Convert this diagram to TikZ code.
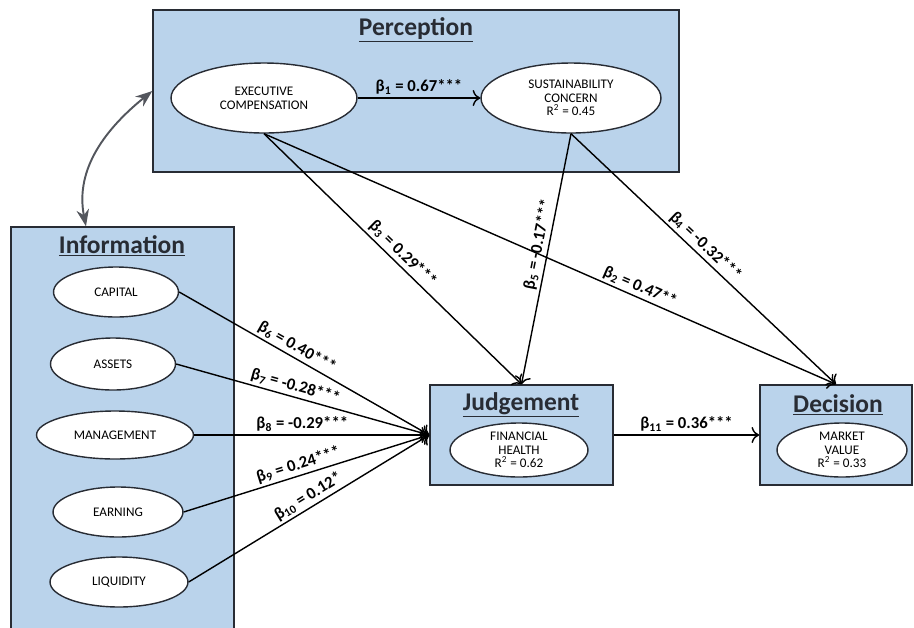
\documentclass[tikz,border=0pt]{standalone}
\usepackage{fontspec}
\setmainfont{Carlito}
\usetikzlibrary{shapes.geometric,arrows.meta}

\definecolor{boxblue}{RGB}{186,211,235}
\definecolor{edge}{RGB}{40,44,52}

\begin{document}
\begin{tikzpicture}[x=0.02cm, y=-0.02cm,
    every node/.style={font=\fontsize{7}{8}\selectfont},
    block/.style={draw=edge, line width=0.9pt, fill=boxblue, rectangle, inner sep=0pt},
    latent/.style={draw=edge, line width=0.8pt, fill=white, ellipse, inner sep=0pt, align=center,
      font=\fontsize{7.5}{7.8}\selectfont},
    heading/.style={font=\fontsize{14.5}{16}\selectfont\bfseries, text=edge},
    coef/.style={font=\fontsize{9.5}{11}\selectfont\bfseries, sloped, above, inner sep=1.5pt},
    link/.style={-{To[scale=1.3]}, line width=0.8pt}]
  \clip (0,0) rectangle (914,627);

  % perception
  \node[block, minimum width=10.52cm, minimum height=3.24cm] (perc) at (416,91) {};
  \node[heading] (perctitle) at (416,30) {\underline{Perception}};
  \node[latent, minimum width=3.72cm, minimum height=1.4cm] (exec) at (264,98) {EXECUTIVE\\COMPENSATION};
  \node[latent, minimum width=3.6cm, minimum height=1.4cm] (sust) at (571,98)
    {SUSTAINABILITY\\CONCERN\\R\textsuperscript{2} = 0.45};

  % information
  \node[block, minimum width=4.46cm, minimum height=8.26cm] (info) at (122.5,433.5) {};
  \node[heading] (infotitle) at (122,246) {\underline{Information}};
  \node[latent, minimum width=2.5cm, minimum height=1cm] (cap) at (116,292) {CAPITAL};
  \node[latent, minimum width=2.5cm, minimum height=1.04cm] (assets) at (113,364) {ASSETS};
  \node[latent, minimum width=3.14cm, minimum height=0.96cm] (mgmt) at (115,435) {MANAGEMENT};
  \node[latent, minimum width=2.6cm, minimum height=1cm] (earn) at (118,512) {EARNING};
  \node[latent, minimum width=2.76cm, minimum height=1cm] (liq) at (119,582) {LIQUIDITY};

  % judgement and decision
  \node[block, minimum width=3.66cm, minimum height=2cm] (jbox) at (521.5,435) {};
  \node[heading] (jtitle) at (521,405) {\underline{Judgement}};
  \node[latent, inner ysep=-3pt, minimum width=2.76cm, minimum height=1.08cm] (fin) at (519,450)
    {FINANCIAL\\HEALTH\\R\textsuperscript{2} = 0.62};
  \node[block, minimum width=3.04cm, minimum height=2cm] (dbox) at (836,435) {};
  \node[heading] (dtitle) at (838,405) {\underline{Decision}};
  \node[latent, inner ysep=-3pt, minimum width=2.6cm, minimum height=1.08cm] (mkt) at (842,450)
    {MARKET\\VALUE\\R\textsuperscript{2} = 0.33};

  \draw[{Stealth[scale=1.2]}-{Stealth[scale=1.2]}, line width=1.1pt, draw=edge!80]
    (info.100) to[out=101, in=219] (perc.west);

  \draw[link] (exec) -- (sust) node[coef, midway] {β\textsubscript{1} = 0.67***};
  \draw[link] (exec.south) -- (jbox.north) node[coef, pos=0.51] {β\textsubscript{3} = 0.29***};
  \draw[link] (exec.south) -- (dbox.north) node[coef, pos=0.65] {β\textsubscript{2} = 0.47**};
  \draw[link] (sust.south) -- (jbox.north) node[coef, pos=0.45] {β\textsubscript{5} = -0.17***};
  \draw[link] (sust.south) -- (dbox.north) node[coef, pos=0.48] {β\textsubscript{4} = -0.32***};

  \draw[link] (cap.east) -- (jbox.west) node[coef, pos=0.45] {β\textsubscript{6} = 0.40***};
  \draw[link] (assets.east) -- (jbox.west) node[coef, pos=0.46] {β\textsubscript{7} = -0.28***};
  \draw[link] (mgmt.east) -- (jbox.west) node[coef, pos=0.46] {β\textsubscript{8} = -0.29***};
  \draw[link] (earn.east) -- (jbox.west) node[coef, pos=0.48] {β\textsubscript{9} = 0.24***};
  \draw[link] (liq.east) -- (jbox.west) node[coef, pos=0.52] {β\textsubscript{10} = 0.12*};

  \draw[link] (jbox) -- (dbox) node[coef, midway] {β\textsubscript{11} = 0.36***};
\end{tikzpicture}
\end{document}
